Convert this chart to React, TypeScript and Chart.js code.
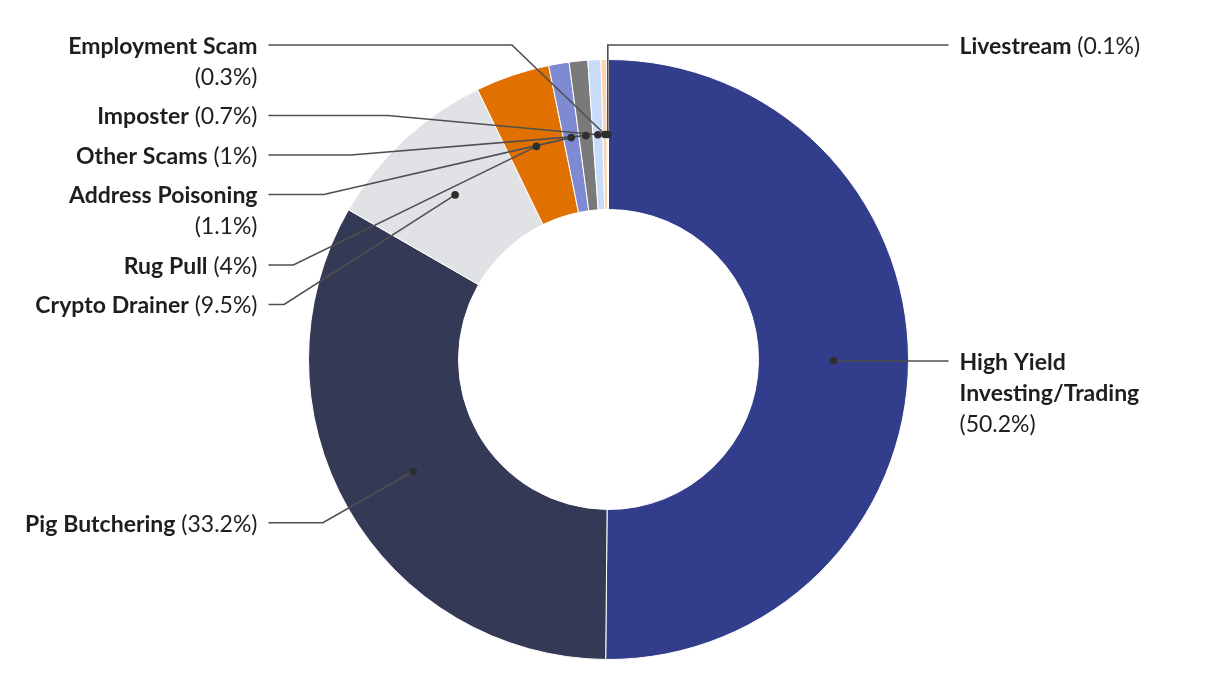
import React, { useEffect, useRef } from 'react';
import { Chart, registerables } from 'chart.js';

Chart.register(...registerables);

// ---- data ----
const categories = [
  'High Yield Investing/Trading',
  'Pig Butchering',
  'Crypto Drainer',
  'Rug Pull',
  'Address Poisoning',
  'Other Scams',
  'Imposter',
  'Employment Scam',
  'Livestream',
];
const shares = [50.2, 33.2, 9.5, 4, 1.1, 1, 0.7, 0.3, 0.1];
const sliceColors = [
  '#323d8b',
  '#343a56',
  '#e1e2e5',
  '#e07000',
  '#7e8bd2',
  '#7a7a7a',
  '#c8dcfa',
  '#fdd4ae',
  '#f2eee8',
];
const labelSides = ['right', 'left', 'left', 'left', 'left', 'left', 'left', 'left', 'right'];

// ---- label layout constants ----
const FONT = 'Lato, "Open Sans", sans-serif';
const FONT_SIZE = 23;
const LINE_H = 31;
const BLOCK_H = 39.5;
const TOP_Y = 45;
const ELBOW_R = 329;
const CONNECTOR_GAP = 340;
const TEXT_GAP = 351;
const MAX_W = 245;

type Tok = { t: string; b: boolean };

function fontOf(b: boolean) {
  return `${b ? 'bold ' : ''}${FONT_SIZE}px ${FONT}`;
}

function lineWidth(ctx: CanvasRenderingContext2D, line: Tok[]) {
  let total = 0;
  line.forEach((tk, k) => {
    ctx.font = fontOf(tk.b);
    total += ctx.measureText(tk.t).width;
    if (k < line.length - 1) {
      ctx.font = fontOf(false);
      total += ctx.measureText(' ').width;
    }
  });
  return total;
}

function wrap(ctx: CanvasRenderingContext2D, name: string, pct: string): Tok[][] {
  const toks: Tok[] = name.split(' ').map((w) => ({ t: w, b: true }));
  toks.push({ t: '(' + pct + ')', b: false });
  const lines: Tok[][] = [];
  let cur: Tok[] = [];
  for (const tk of toks) {
    const trial = [...cur, tk];
    if (cur.length && lineWidth(ctx, trial) > MAX_W) {
      lines.push(cur);
      cur = [tk];
    } else cur = trial;
  }
  if (cur.length) lines.push(cur);
  return lines;
}

function drawLine(ctx: CanvasRenderingContext2D, line: Tok[], x: number, y: number) {
  let cx = x;
  line.forEach((tk, k) => {
    ctx.font = fontOf(tk.b);
    ctx.fillText(tk.t, cx, y);
    cx += ctx.measureText(tk.t).width;
    if (k < line.length - 1) {
      ctx.font = fontOf(false);
      cx += ctx.measureText(' ').width;
    }
  });
}

const leaderPlugin = {
  id: 'leaders',
  afterDatasetsDraw(chart: any) {
    const ctx: CanvasRenderingContext2D = chart.ctx;
    const meta = chart.getDatasetMeta(0);
    ctx.save();
    const items = meta.data.map((arc: any, i: number) => {
      const p = arc.getProps(['x', 'y', 'startAngle', 'endAngle', 'innerRadius', 'outerRadius'], true);
      const mid = (p.startAngle + p.endAngle) / 2;
      const rMid = (p.innerRadius + p.outerRadius) / 2;
      return {
        i,
        cx: p.x,
        cy: p.y,
        dotX: p.x + Math.cos(mid) * rMid,
        dotY: p.y + Math.sin(mid) * rMid,
        natY: p.y + Math.sin(mid) * ELBOW_R,
        side: labelSides[i],
        lines: wrap(ctx, categories[i], `${shares[i]}%`),
        y: 0,
      };
    });

    ['left', 'right'].forEach((side) => {
      const group = items.filter((it: any) => it.side === side).sort((a: any, b: any) => a.natY - b.natY);
      let bottom = TOP_Y;
      group.forEach((it: any) => {
        it.y = Math.max(it.natY, bottom);
        bottom = it.y + LINE_H * (it.lines.length - 1) + BLOCK_H;
      });
    });

    // connectors
    ctx.strokeStyle = '#4f4f4f';
    ctx.lineWidth = 1.6;
    items.forEach((it: any) => {
      const dy = it.y - it.cy;
      const half = Math.abs(dy) < ELBOW_R ? Math.sqrt(ELBOW_R * ELBOW_R - dy * dy) : 0;
      let elbowX: number;
      let endX: number;
      if (it.side === 'left') {
        elbowX = Math.min(it.cx - half, it.dotX);
        endX = it.cx - CONNECTOR_GAP;
      } else {
        elbowX = Math.min(it.cx + half, it.dotX);
        endX = it.cx + CONNECTOR_GAP;
      }
      ctx.beginPath();
      ctx.moveTo(it.dotX, it.dotY);
      ctx.lineTo(elbowX, it.y);
      ctx.lineTo(endX, it.y);
      ctx.stroke();
    });
    // dots
    ctx.fillStyle = '#2e2e2e';
    items.forEach((it: any) => {
      ctx.beginPath();
      ctx.arc(it.dotX, it.dotY, 3.8, 0, Math.PI * 2);
      ctx.fill();
    });
    // text
    ctx.fillStyle = '#1e1e1e';
    ctx.textBaseline = 'middle';
    ctx.textAlign = 'left';
    items.forEach((it: any) => {
      it.lines.forEach((line: Tok[], k: number) => {
        const w = lineWidth(ctx, line);
        const x = it.side === 'left' ? it.cx - TEXT_GAP - w : it.cx + TEXT_GAP;
        drawLine(ctx, line, x, it.y + 1.5 + k * LINE_H);
      });
    });
    ctx.restore();
  },
};

export default function App() {
  const ref = useRef<HTMLCanvasElement>(null);
  useEffect(() => {
    if (!ref.current) return;
    const chart = new Chart(ref.current, {
      type: 'doughnut',
      data: {
        labels: categories,
        datasets: [
          {
            data: shares,
            backgroundColor: sliceColors,
            borderColor: '#ffffff',
            borderWidth: 1,
          },
        ],
      },
      options: {
        responsive: false,
        animation: false,
        cutout: '50%',
        layout: { padding: { left: 308, right: 311, top: 59, bottom: 40 } },
        plugins: { legend: { display: false }, tooltip: { enabled: false } },
      },
      plugins: [leaderPlugin],
    } as any);
    const fonts = (document as any).fonts;
    if (fonts && fonts.load) {
      Promise.all([fonts.load(fontOf(true)), fonts.load(fontOf(false))]).then(() => chart.update()).catch(() => {});
    }
    return () => chart.destroy();
  }, []);
  return (
    <div style={{ position: 'fixed', left: 0, top: 0, width: 1220, height: 700, background: '#fff' }}>
      <canvas ref={ref} width={1220} height={700} />
    </div>
  );
}
